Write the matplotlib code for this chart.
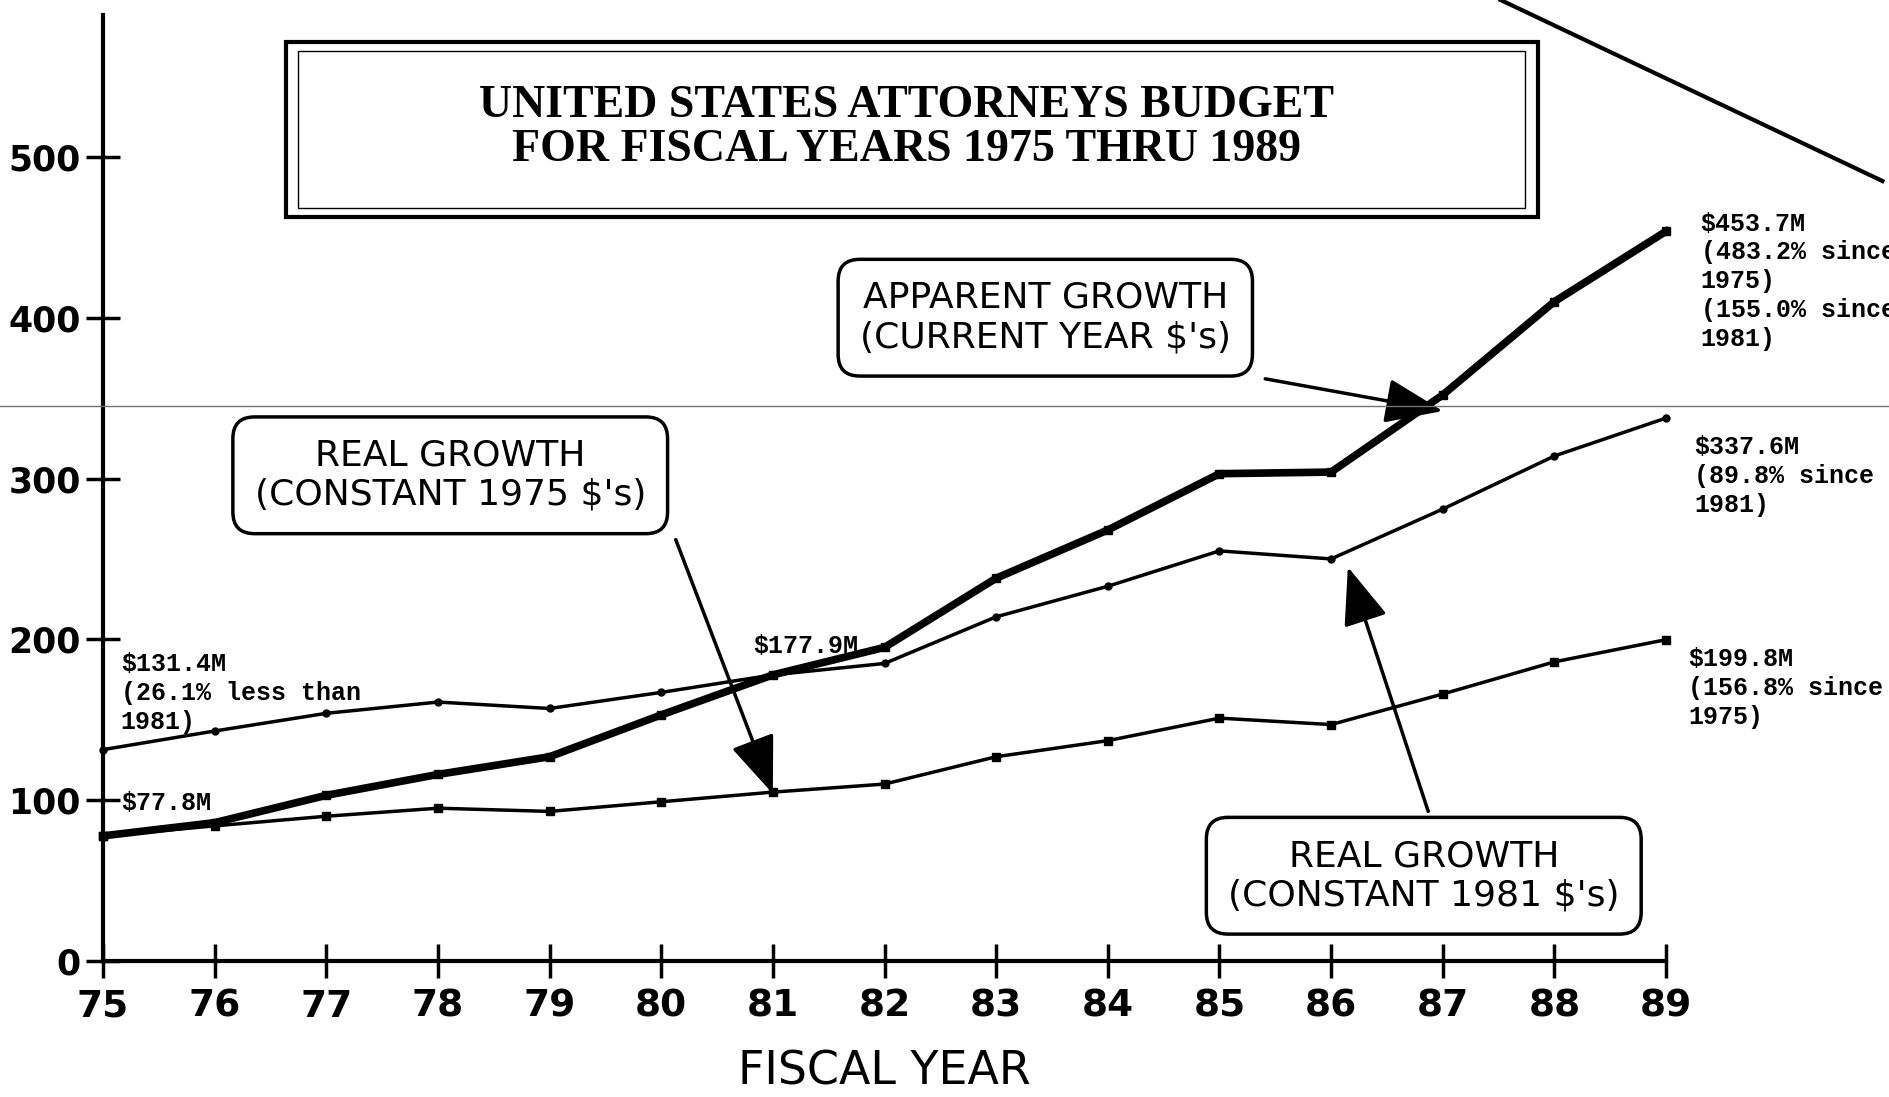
import matplotlib
import matplotlib.pyplot as plt
from matplotlib.patches import Rectangle

matplotlib.use("Agg")

years = [75, 76, 77, 78, 79, 80, 81, 82, 83, 84, 85, 86, 87, 88, 89]
year_labels = [str(y) for y in years]

# $ millions
apparent = [77.8, 86, 103, 116, 127, 153, 177.9, 195, 238, 268, 303, 304, 352, 410, 453.7]
real_1981 = [131.4, 143, 154, 161, 157, 167, 177.9, 185, 214, 233, 255, 250, 281, 314, 337.6]
real_1975 = [77.8, 84, 90, 95, 93, 99, 105, 110, 127, 137, 151, 147, 166, 186, 199.8]

y_ticks = [0, 100, 200, 300, 400, 500]

fig = plt.figure(figsize=(18.9, 10.97), dpi=100)
ax = fig.add_axes([0.0545, 0.124, 0.827, 0.862])

ax.plot(years, apparent, '-', color='black', lw=5.5, marker='s', ms=6, clip_on=False)
ax.plot(years, real_1981, '-', color='black', lw=2.5, marker='o', ms=5, clip_on=False)
ax.plot(years, real_1975, '-', color='black', lw=2.5, marker='s', ms=6, clip_on=False)

ax.set_xlim(75, 89)
ax.set_ylim(0, 588)
ax.set_xticks(years)
ax.set_xticklabels(year_labels)
ax.set_yticks(y_ticks)
for s in ['top', 'right']:
    ax.spines[s].set_visible(False)
for s in ['left', 'bottom']:
    ax.spines[s].set_linewidth(3)
ax.tick_params(direction='inout', length=24, width=2.5)
ax.tick_params(axis='y', labelsize=25, pad=4)
ax.tick_params(axis='x', labelsize=27, pad=8)
for lab in ax.get_yticklabels() + ax.get_xticklabels():
    lab.set_fontweight('bold')
ax.set_xlabel("FISCAL YEAR", fontsize=33, labelpad=18)

# title box
ax.add_patch(Rectangle((76.64, 462.7), 11.21, 108.8, fill=False, lw=3,
                       ec='black', clip_on=False))
ax.add_patch(Rectangle((76.75, 468), 10.99, 98, fill=False, lw=1,
                       ec='black', clip_on=False))
ax.text(82.2, 518, "UNITED STATES ATTORNEYS BUDGET\nFOR FISCAL YEARS 1975 THRU 1989",
        ha='center', va='center', fontsize=33, family='Liberation Serif',
        fontweight='bold', linespacing=1.05)

# callout boxes
box = dict(boxstyle='round,pad=0.6,rounding_size=0.6', fc='white', ec='black', lw=2.5)
ax.text(83.44, 400, "APPARENT GROWTH\n(CURRENT YEAR $'s)", ha='center', va='center',
        fontsize=26, bbox=box, linespacing=1.2)
ax.text(78.11, 302, "REAL GROWTH\n(CONSTANT 1975 $'s)", ha='center', va='center',
        fontsize=26, bbox=box, linespacing=1.2)
ax.text(86.83, 53, "REAL GROWTH\n(CONSTANT 1981 $'s)", ha='center', va='center',
        fontsize=26, bbox=box, linespacing=1.2)

arrow = dict(arrowstyle='-|>,head_length=1.8,head_width=0.7', lw=2.5, color='black',
             shrinkA=0, shrinkB=0, mutation_scale=20)
ax.annotate('', xy=(87.0, 342), xytext=(85.41, 362), arrowprops=arrow)
ax.annotate('', xy=(81.0, 104), xytext=(80.13, 262), arrowprops=arrow)
ax.annotate('', xy=(86.15, 245), xytext=(86.87, 93), arrowprops=arrow)

# value notes
mono = dict(family='Liberation Mono', fontsize=18, linespacing=1.25, fontweight='bold')
ax.text(89.31, 466, "$453.7M\n(483.2% since\n1975)\n(155.0% since\n1981)", va='top', **mono)
ax.text(89.25, 327, "$337.6M\n(89.8% since\n1981)", va='top', **mono)
ax.text(89.2, 195, "$199.8M\n(156.8% since\n1975)", va='top', **mono)
ax.text(75.16, 192, "$131.4M\n(26.1% less than\n1981)", va='top', **mono)
ax.text(75.16, 98, "$77.8M", va='center', **mono)
ax.text(80.82, 196, "$177.9M", va='center', **mono)

# scan marks
fig.add_artist(plt.Line2D([0, 1], [0.630, 0.630], color='0.45', lw=1))
fig.add_artist(plt.Line2D([0.794, 0.996], [1.0, 0.835], color='black', lw=3))

plt.savefig("out.png")
